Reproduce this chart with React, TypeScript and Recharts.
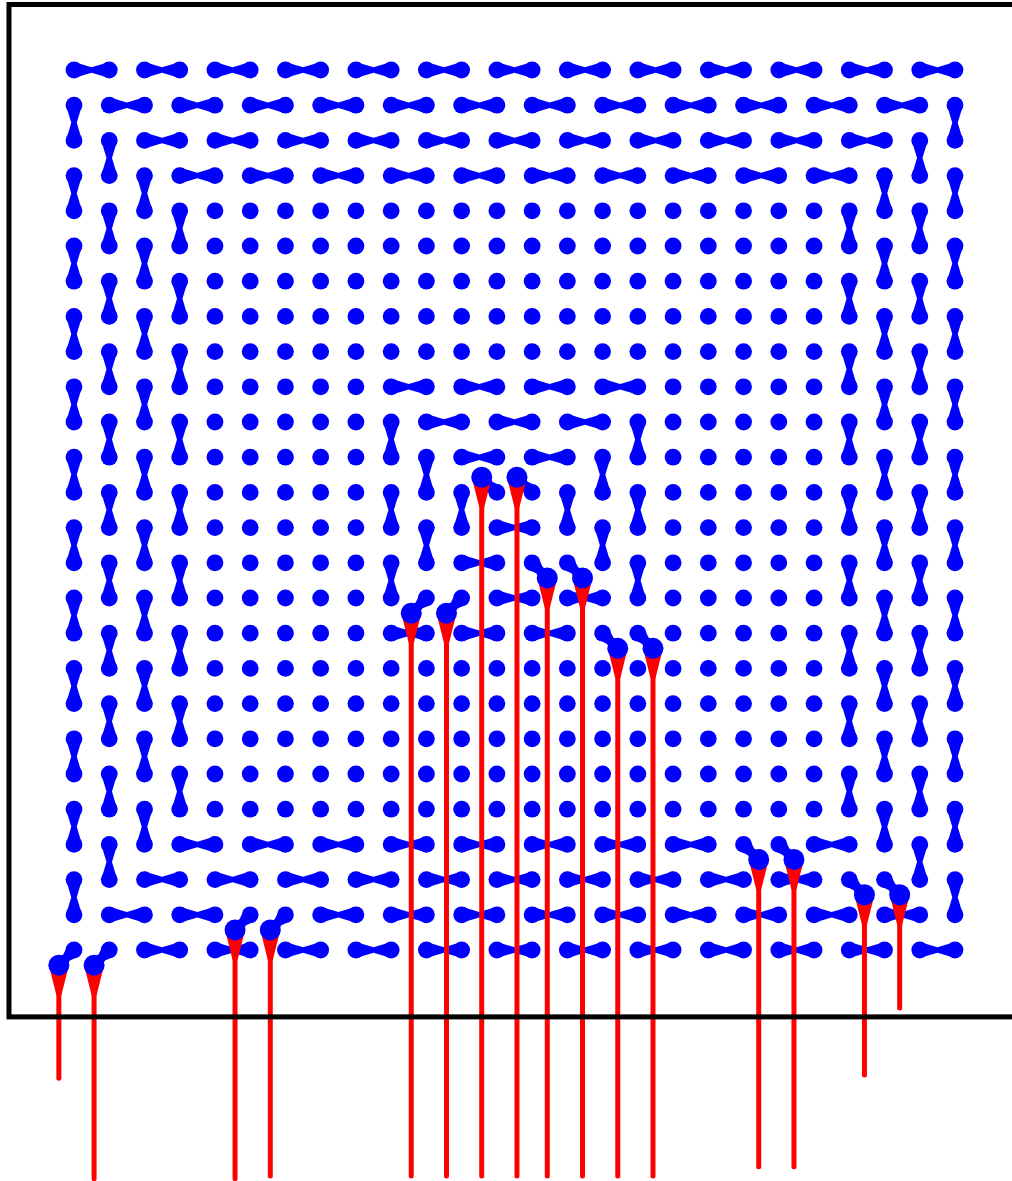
import { ScatterChart, XAxis, YAxis, Scatter, ReferenceLine } from 'recharts';

// lattice indices (26 x 26 pads)
const COLS = [0, 1, 2, 3, 4, 5, 6, 7, 8, 9, 10, 11, 12, 13, 14, 15, 16, 17, 18, 19, 20, 21, 22, 23, 24, 25];
const ROWS = [0, 1, 2, 3, 4, 5, 6, 7, 8, 9, 10, 11, 12, 13, 14, 15, 16, 17, 18, 19, 20, 21, 22, 23, 24, 25];

// horizontal links: row -> first column of each linked pair
const horizontalPairs = [
  { row: 0, cols: [0, 2, 4, 6, 8, 10, 12, 14, 16, 18, 20, 22, 24] },
  { row: 1, cols: [1, 3, 5, 7, 9, 11, 13, 15, 17, 19, 21, 23] },
  { row: 2, cols: [2, 4, 6, 8, 10, 12, 14, 16, 18, 20, 22] },
  { row: 3, cols: [3, 5, 7, 9, 11, 13, 15, 17, 19, 21] },
  { row: 9, cols: [9, 11, 13, 15] },
  { row: 10, cols: [10, 12, 14] },
  { row: 11, cols: [11, 13] },
  { row: 13, cols: [12] },
  { row: 14, cols: [11] },
  { row: 15, cols: [12, 14] },
  { row: 16, cols: [9, 11, 13] },
  { row: 22, cols: [3, 5, 7, 9, 11, 13, 15, 17, 21] },
  { row: 23, cols: [2, 4, 6, 8, 10, 12, 14, 16, 18, 20] },
  { row: 24, cols: [1, 3, 7, 9, 11, 13, 15, 17, 19, 21, 23] },
  { row: 25, cols: [2, 4, 6, 8, 10, 12, 14, 16, 18, 20, 22, 24] },
];

// vertical links: column -> first row of each linked pair
const verticalPairs = [
  { col: 0, rows: [1, 3, 5, 7, 9, 11, 13, 15, 17, 19, 21, 23] },
  { col: 1, rows: [2, 4, 6, 8, 10, 12, 14, 16, 18, 20, 22] },
  { col: 2, rows: [3, 5, 7, 9, 11, 13, 15, 17, 19, 21] },
  { col: 3, rows: [4, 6, 8, 10, 12, 14, 16, 18, 20] },
  { col: 9, rows: [10, 12, 14] },
  { col: 10, rows: [11, 13] },
  { col: 11, rows: [12] },
  { col: 14, rows: [12] },
  { col: 15, rows: [11, 13] },
  { col: 16, rows: [10, 12, 14] },
  { col: 22, rows: [4, 6, 8, 10, 12, 14, 16, 18, 20] },
  { col: 23, rows: [3, 5, 7, 9, 11, 13, 15, 17, 19, 21] },
  { col: 24, rows: [2, 4, 6, 8, 10, 12, 14, 16, 18, 20, 22] },
  { col: 25, rows: [1, 3, 5, 7, 9, 11, 13, 15, 17, 19, 21, 23] },
];

// escape wires: pad, side of the via (dx, dy) and where the trace ends (row units)
const wires = [
  { col: 0, row: 25, dx: -1, dy: 1, end: 28.64 },
  { col: 1, row: 25, dx: -1, dy: 1, end: 31.5 },
  { col: 5, row: 24, dx: -1, dy: 1, end: 31.5 },
  { col: 6, row: 24, dx: -1, dy: 1, end: 31.42 },
  { col: 10, row: 15, dx: -1, dy: 1, end: 31.42 },
  { col: 11, row: 15, dx: -1, dy: 1, end: 31.42 },
  { col: 12, row: 12, dx: -1, dy: -1, end: 31.42 },
  { col: 13, row: 12, dx: -1, dy: -1, end: 31.42 },
  { col: 13, row: 14, dx: 1, dy: 1, end: 31.42 },
  { col: 14, row: 14, dx: 1, dy: 1, end: 31.42 },
  { col: 15, row: 16, dx: 1, dy: 1, end: 31.42 },
  { col: 16, row: 16, dx: 1, dy: 1, end: 31.42 },
  { col: 19, row: 22, dx: 1, dy: 1, end: 31.16 },
  { col: 20, row: 22, dx: 1, dy: 1, end: 31.16 },
  { col: 22, row: 23, dx: 1, dy: 1, end: 28.55 },
  { col: 23, row: 23, dx: 1, dy: 1, end: 26.65 },
];

// board outline (row / column units)
const boardOutline = { left: -1.845, top: -1.861, right: 26.87, bottom: 26.9 };

const W = 1012;
const H = 1181;
const X0 = 74;
const Y0 = 70;
const STEP_X = 35.24;
const STEP_Y = 35.2;
const VIA_OFFSET = 0.43;
const BLUE = '#0000ff';
const RED = '#ff0000';

const gridNodes = ROWS.flatMap((r) => COLS.map((c) => ({ x: c, y: r })));
const viaNodes = wires.map((w) => ({ x: w.col + w.dx * VIA_OFFSET, y: w.row + w.dy * VIA_OFFSET }));

const links = [
  ...horizontalPairs.flatMap((h) => h.cols.map((c) => ({ x1: c, y1: h.row, x2: c + 1, y2: h.row }))),
  ...verticalPairs.flatMap((v) => v.rows.map((r) => ({ x1: v.col, y1: r, x2: v.col, y2: r + 1 }))),
];

// bow-tie link: wide at both pads, pinched in the middle
const taper = (wEnd: number, wMid: number) => (p: any) => {
  const { x1, y1, x2, y2 } = p;
  const dx = x2 - x1;
  const dy = y2 - y1;
  const len = Math.hypot(dx, dy) || 1;
  const nx = -dy / len;
  const ny = dx / len;
  const mx = (x1 + x2) / 2;
  const my = (y1 + y2) / 2;
  const a = wEnd / 2;
  const m = wMid / 2;
  const pts = [
    [x1 + nx * a, y1 + ny * a],
    [mx + nx * m, my + ny * m],
    [x2 + nx * a, y2 + ny * a],
    [x2 - nx * a, y2 - ny * a],
    [mx - nx * m, my - ny * m],
    [x1 - nx * a, y1 - ny * a],
  ];
  return <polygon points={pts.map((q) => q.join(',')).join(' ')} fill={BLUE} />;
};

const linkShape = taper(16, 5.5);
const viaLinkShape = taper(16, 9);

const wireShape = (p: any) => {
  const { x1, y1, x2, y2 } = p;
  return (
    <g>
      <polygon
        points={`${x1 - 10},${y1} ${x1 + 10},${y1} ${x1 + 2.5},${y1 + 30} ${x1 - 2.5},${y1 + 30}`}
        fill={RED}
      />
      <line x1={x1} y1={y1} x2={x2} y2={y2} stroke={RED} strokeWidth={5} strokeLinecap="round" />
    </g>
  );
};

const boxShape = (p: any) => {
  const { x1, y1, x2, y2 } = p;
  return (
    <rect
      x={Math.min(x1, x2)}
      y={Math.min(y1, y2)}
      width={Math.abs(x2 - x1)}
      height={Math.abs(y2 - y1)}
      fill="none"
      stroke="#000"
      strokeWidth={5}
    />
  );
};

const App = () => {
  return (
    <div style={{ position: 'absolute', left: 0, top: 0, width: W, height: H, background: '#fff' }}>
      <ScatterChart width={W} height={H} margin={{ top: 0, right: 0, bottom: 0, left: 0 }}>
        <XAxis
          type="number"
          dataKey="x"
          domain={[-X0 / STEP_X, (W - X0) / STEP_X]}
          allowDataOverflow
          hide
        />
        <YAxis
          type="number"
          dataKey="y"
          domain={[-Y0 / STEP_Y, (H - Y0) / STEP_Y]}
          allowDataOverflow
          reversed
          hide
        />
        {links.map((l, i) => (
          <ReferenceLine
            key={'l' + i}
            segment={[{ x: l.x1, y: l.y1 }, { x: l.x2, y: l.y2 }]}
            ifOverflow="visible"
            shape={linkShape}
          />
        ))}
        {wires.map((w, i) => (
          <ReferenceLine
            key={'v' + i}
            segment={[{ x: w.col, y: w.row }, { x: viaNodes[i].x, y: viaNodes[i].y }]}
            ifOverflow="visible"
            shape={viaLinkShape}
          />
        ))}
        <Scatter
          data={gridNodes}
          isAnimationActive={false}
          shape={(p: any) => <circle cx={p.cx} cy={p.cy} r={8.4} fill={BLUE} />}
        />
        {wires.map((w, i) => (
          <ReferenceLine
            key={'w' + i}
            segment={[{ x: viaNodes[i].x, y: viaNodes[i].y }, { x: viaNodes[i].x, y: w.end }]}
            ifOverflow="visible"
            shape={wireShape}
          />
        ))}
        <ReferenceLine
          segment={[
            { x: boardOutline.left, y: boardOutline.top },
            { x: boardOutline.right, y: boardOutline.bottom },
          ]}
          ifOverflow="visible"
          shape={boxShape}
        />
        <Scatter
          data={viaNodes}
          isAnimationActive={false}
          shape={(p: any) => <circle cx={p.cx} cy={p.cy} r={10.5} fill={BLUE} />}
        />
      </ScatterChart>
    </div>
  );
};

export default App;
